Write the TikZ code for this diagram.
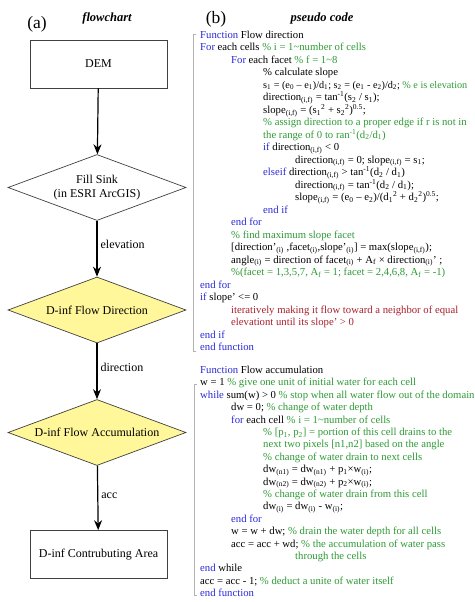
\documentclass[tikz,border=0pt]{standalone}
\usepackage{fontspec}
\setmainfont{Liberation Serif}
\usepackage{xcolor}
\usepackage{tikz}
\usetikzlibrary{arrows.meta}
\usetikzlibrary{shapes.geometric}
\definecolor{kwBlue}{HTML}{2A2AD6}
\definecolor{cmGreen}{HTML}{2E9A35}
\definecolor{txRed}{HTML}{A8202E}
\definecolor{dYellow}{HTML}{FFF799}
\definecolor{lnGray}{HTML}{404040}
\newcommand{\kw}[1]{\textcolor{kwBlue}{#1}}
\newcommand{\cm}[1]{\textcolor{cmGreen}{#1}}
\newcommand{\sbs}[1]{\textsubscript{#1}}
\newcommand{\sps}[1]{\textsuperscript{#1}}
\tikzset{box/.style={rectangle, draw=lnGray, line width=0.7pt, minimum width=137pt,
  minimum height=48pt, font=\fontsize{12}{13.5}\selectfont}}
\tikzset{dia/.style={diamond, draw=lnGray, line width=0.7pt, aspect=2.7, inner sep=0pt,
  minimum width=178pt, minimum height=66pt, align=center,
  font=\fontsize{12}{13.5}\selectfont}}
\tikzset{arr/.style={draw, line width=1.2pt, -{Stealth[length=10pt,width=8pt]}}}
\tikzset{lab/.style={anchor=west, inner sep=3pt, font=\fontsize{12}{13.5}\selectfont}}
\tikzset{code/.style={anchor=base west, inner sep=0pt, font=\fontsize{10.7}{12.4}\selectfont}}
\tikzset{brak/.style={draw=gray!60, line width=0.8pt}}

\begin{document}
\begin{tikzpicture}[x=1pt, y=-1pt]
  \useasboundingbox (0,0) rectangle (474,602);
  %% (a) flowchart
  \node (ta) at (37,24) {\fontsize{17.5}{18}\selectfont (a)};
  \node (tfc) at (107,18) {\fontsize{12.5}{14}\selectfont\bfseries\itshape flowchart};
  \node (dem) at (98.5,64) [box] {DEM};
  \node (fill) at (97,187.5) [dia] {Fill Sink\\(in ESRI ArcGIS)};
  \node (dir) at (97,310) [dia, fill=dYellow] {D-inf Flow Direction};
  \node (accu) at (97,432.5) [dia, fill=dYellow] {D-inf Flow Accumulation};
  \node (area) at (98.5,554.5) [box] {D-inf Contrubuting Area};
  \draw [arr] (dem) -- (fill);
  \draw [arr] (fill) -- node [lab, pos=0.43] {elevation} (dir);
  \draw [arr] (dir) -- node [lab, pos=0.43] {direction} (accu);
  \draw [arr] (accu) -- node [lab, pos=0.46] {acc} (area);
  %% (b) pseudo code
  \node (tb) at (216,19) {\fontsize{17.5}{18}\selectfont (b)};
  \node (tpc) at (322,18) {\fontsize{12.5}{14}\selectfont\bfseries\itshape pseudo code};
  \draw [brak] (196,34) -- (193,34) -- (193,351) -- (196,351);
  \draw [brak] (197,384) -- (194,384) -- (194,595) -- (197,595);
  %%
  \node (f1) at (200,38.5) [code] {\kw{Function} Flow direction};
  \node (f2) at (200,51.0) [code] {\kw{For} each cells \cm{\% i = 1\textasciitilde number of cells}};
  \node (f3) at (231,63.5) [code] {\kw{For} each facet \cm{\% f = 1\textasciitilde 8}};
  \node (f4) at (263,75.9) [code] {\% calculate slope};
  \node (f5) at (263,88.4) [code, font=\fontsize{10.2}{12.4}\selectfont] {s\sbs{1} = (e\sbs{0} -- e\sbs{1})/d\sbs{1}; s\sbs{2} = (e\sbs{1} - e\sbs{2})/d\sbs{2}; \cm{\% e is elevation}};
  \node (f6) at (263,100.9) [code] {direction\sbs{(i,f)} = tan\sps{-1}(s\sbs{2} / s\sbs{1});};
  \node (f7) at (263,113.4) [code] {slope\sbs{(i,f)} = (s\sbs{1}\sps{2} + s\sbs{2}\sps{2})\sps{0.5};};
  \node (f8) at (263,125.9) [code] {\cm{\% assign direction to a proper edge if r is not in}};
  \node (f9) at (263,138.3) [code] {\cm{the range of 0 to ran\sps{-1}(d\sbs{2}/d\sbs{1})}};
  \node (f10) at (263,150.8) [code] {\kw{if} direction\sbs{(i,f)} < 0};
  \node (f11) at (295,163.3) [code] {direction\sbs{(i,f)} = 0; slope\sbs{(i,f)} = s\sbs{1};};
  \node (f12) at (263,175.8) [code] {\kw{elseif} direction\sbs{(i,f)} > tan\sps{-1}(d\sbs{2} / d\sbs{1})};
  \node (f13) at (295,188.3) [code] {direction\sbs{(i,f)} = tan\sps{-1}(d\sbs{2} / d\sbs{1});};
  \node (f14) at (295,200.7) [code] {slope\sbs{(i,f)} = (e\sbs{0} -- e\sbs{2})/(d\sbs{1}\sps{2} + d\sbs{2}\sps{2})\sps{0.5};};
  \node (f15) at (263,213.2) [code] {\kw{end if}};
  \node (f16) at (231,225.7) [code] {\kw{end for}};
  \node (f17) at (231,238.2) [code] {\cm{\% find maximum slope facet}};
  \node (f18) at (231,250.7) [code] {[direction'\sbs{(i)} ,facet\sbs{(i)},slope'\sbs{(i)}] = max(slope\sbs{(i,f)});};
  \node (f19) at (231,263.1) [code] {angle\sbs{(i)} = direction of facet\sbs{(i)} + A\sbs{f} × direction\sbs{(i)}' ;};
  \node (f20) at (231,275.6) [code] {\cm{\%(facet = 1,3,5,7, A\sbs{f} = 1; facet = 2,4,6,8, A\sbs{f} = -1)}};
  \node (f21) at (200,288.1) [code] {\kw{end for}};
  \node (f22) at (200,300.6) [code] {\kw{if} slope' <= 0};
  \node (f23) at (231,313.1) [code] {\textcolor{txRed}{iteratively making it flow toward a neighbor of equal}};
  \node (f24) at (231,325.5) [code] {\textcolor{txRed}{elevationt until its slope' > 0}};
  \node (f25) at (200,338.0) [code] {\kw{end if}};
  \node (f26) at (200,350.5) [code] {\kw{end function}};
  %%
  \node (a1) at (200,373.5) [code] {\kw{Function} Flow accumulation};
  \node (a2) at (200,385.9) [code] {w = 1 \cm{\% give one unit of initial water for each cell}};
  \node (a3) at (200,398.3) [code] {\kw{while} sum(w) > 0 \cm{\% stop when all water flow out of the domain}};
  \node (a4) at (231,410.7) [code] {dw = 0; \cm{\% change of water depth}};
  \node (a5) at (231,423.1) [code] {\kw{for} each cell \cm{\% i = 1\textasciitilde number of cells}};
  \node (a6) at (263,435.5) [code] {\cm{\% [p\sbs{1}, p\sbs{2}] = portion of this cell drains to the}};
  \node (a7) at (263,447.8) [code] {\cm{next two pixels [n1,n2] based on the angle}};
  \node (a8) at (263,460.2) [code] {\cm{\% change of water drain to next cells}};
  \node (a9) at (263,472.6) [code] {dw\sbs{(n1)} = dw\sbs{(n1)} + p\sbs{1}×w\sbs{(i)};};
  \node (a10) at (263,485.0) [code] {dw\sbs{(n2)} = dw\sbs{(n2)} + p\sbs{2}×w\sbs{(i)};};
  \node (a11) at (263,497.4) [code] {\cm{\% change of water drain from this cell}};
  \node (a12) at (263,509.8) [code] {dw\sbs{(i)} = dw\sbs{(i)} - w\sbs{(i)};};
  \node (a13) at (231,522.2) [code] {\kw{end for}};
  \node (a14) at (231,534.6) [code] {w = w + dw; \cm{\% drain the water depth for all cells}};
  \node (a15) at (231,547.0) [code] {acc = acc + wd; \cm{\% the accumulation of water pass}};
  \node (a16) at (295,559.4) [code] {\cm{through the cells}};
  \node (a17) at (200,571.7) [code] {\kw{end} while};
  \node (a18) at (200,584.1) [code] {acc = acc - 1; \cm{\% deduct a unite of water itself}};
  \node (a19) at (200,596.5) [code] {\kw{end function}};
\end{tikzpicture}
\end{document}
